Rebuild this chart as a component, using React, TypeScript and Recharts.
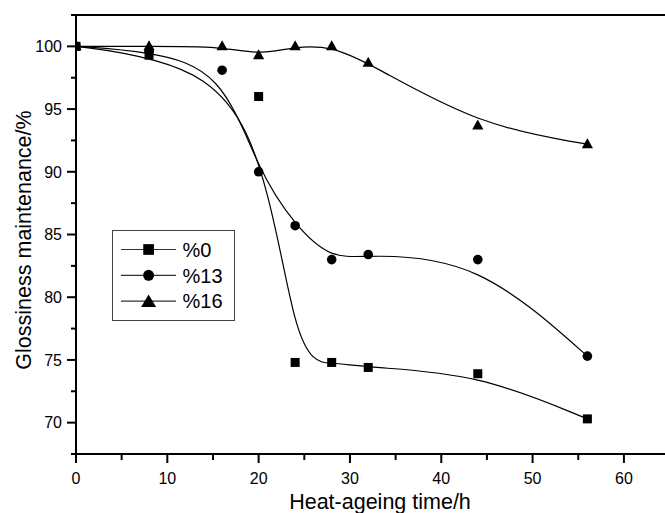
import React from "react";
import { LineChart, Line, XAxis, YAxis, ReferenceLine, Legend } from "recharts";

// heat-ageing time (h) and glossiness maintenance (%) per sample
const time0 = [0, 8, 20, 24, 28, 32, 44, 56];
const gloss0 = [100, 99.3, 96.0, 74.8, 74.8, 74.4, 73.9, 70.3];

const time13 = [0, 8, 16, 20, 24, 28, 32, 44, 56];
const gloss13 = [100, 99.6, 98.1, 90.0, 85.7, 83.0, 83.4, 83.0, 75.3];

const time16 = [0, 8, 16, 20, 24, 28, 32, 44, 56];
const gloss16 = [100, 100, 100, 99.3, 100, 100, 98.7, 93.7, 92.2];

const seriesNames = ["%0", "%13", "%16"];

const xTicks = [0, 5, 10, 15, 20, 25, 30, 35, 40, 45, 50, 55, 60];
const yTicks = [67.5, 70, 72.5, 75, 77.5, 80, 82.5, 85, 87.5, 90, 92.5, 95, 97.5, 100, 102.5];

const FONT = "'Liberation Sans', Arial, Helvetica, sans-serif";

const toPoints = (xs: number[], ys: number[]) => xs.map((x, i) => ({ x, y: ys[i] }));

type Shape = "square" | "circle" | "triangle";

function marker(shape: Shape, cx: number, cy: number, big: boolean, key?: React.Key) {
  if (shape === "square") {
    const s = big ? 10.7 : 9;
    return <rect key={key} x={cx - s / 2} y={cy - s / 2} width={s} height={s} fill="#000" />;
  }
  if (shape === "circle") {
    return <circle key={key} cx={cx} cy={cy} r={big ? 5.5 : 4.8} fill="#000" />;
  }
  const hw = big ? 7.5 : 5.6;
  const up = big ? 6.7 : 6;
  const dn = big ? 6 : 4;
  return (
    <polygon key={key}
      points={`${cx},${cy - up} ${cx - hw},${cy + dn} ${cx + hw},${cy + dn}`}
      fill="#000" />
  );
}

const dotFor = (shape: Shape) => (p: any) => {
  if (!isFinite(p.cx) || !isFinite(p.cy)) return <g key={p.index} />;
  return marker(shape, p.cx, p.cy, false, p.index);
};

function YTick(props: any) {
  const { x, y, payload } = props;
  const v = payload.value as number;
  const major = v % 5 === 0;
  return (
    <g>
      <line x1={x - (major ? 9 : 5)} x2={x} y1={y} y2={y} stroke="#000" strokeWidth={2} />
      {major && (
        <text x={x - 14} y={y} dy="0.36em" textAnchor="end" fontSize={16}
              fontFamily={FONT} fill="#000">{v}</text>
      )}
    </g>
  );
}

function XTick(props: any) {
  const { x, y, payload } = props;
  const v = payload.value as number;
  const major = v % 10 === 0;
  return (
    <g>
      <line x1={x} x2={x} y1={y} y2={y + (major ? 9 : 6)} stroke="#000" strokeWidth={2} />
      {major && (
        <text x={x} y={y + 29.5} textAnchor="middle" fontSize={16}
              fontFamily={FONT} fill="#000">{v}</text>
      )}
    </g>
  );
}

const shapes: Shape[] = ["square", "circle", "triangle"];

function LegendBox() {
  return (
    <svg width={124} height={92} style={{ display: "block" }}>
      <rect x={0.5} y={0.5} width={122} height={90} fill="#fff" stroke="#444" strokeWidth={1} />
      {seriesNames.map((name, i) => {
        const cy = 19.5 + i * 25.8;
        return (
          <g key={name}>
            <line x1={9} x2={64} y1={cy} y2={cy} stroke="#333" strokeWidth={1.2} />
            {marker(shapes[i], 36.6, cy, true)}
            <text x={70.5} y={cy} dy="0.36em" fontSize={20} fontFamily={FONT} fill="#000">{name}</text>
          </g>
        );
      })}
    </svg>
  );
}

export default function App() {
  return (
    <div style={{ position: "absolute", left: 0, top: 0, width: 665, height: 513, background: "#fff" }}>
      <LineChart width={665} height={513} margin={{ top: 15, right: 0, left: 0, bottom: 0 }}>
        <XAxis type="number" dataKey="x" domain={[0, 64.5]} ticks={xTicks} interval={0}
               allowDataOverflow height={59} tickSize={0} tickMargin={0} tickLine={false}
               axisLine={{ stroke: "#000", strokeWidth: 2 }} tick={<XTick />}
               label={{
                 content: () => (
                   <text x={380} y={509} textAnchor="middle" fontSize={21.5}
                         fontFamily={FONT} fill="#000">Heat-ageing time/h</text>
                 ),
               }} />
        <YAxis type="number" dataKey="y" domain={[67.5, 102.5]} ticks={yTicks} interval={0}
               allowDataOverflow width={76} tickSize={0} tickMargin={0} tickLine={false}
               axisLine={{ stroke: "#000", strokeWidth: 2 }} tick={<YTick />}
               label={{
                 content: () => (
                   <text x={31} y={240} transform="rotate(-90 31 240)" textAnchor="middle"
                         fontSize={21.5} fontFamily={FONT} fill="#000">Glossiness maintenance/%</text>
                 ),
               }} />
        <ReferenceLine y={102.5} stroke="#000" strokeWidth={2} ifOverflow="visible" />
        <Line data={toPoints(time0, gloss0)} dataKey="y" name={seriesNames[0]} type="basis"
              stroke="#000" strokeWidth={1.2} dot={dotFor("square")} activeDot={false}
              isAnimationActive={false} />
        <Line data={toPoints(time13, gloss13)} dataKey="y" name={seriesNames[1]} type="basis"
              stroke="#000" strokeWidth={1.2} dot={dotFor("circle")} activeDot={false}
              isAnimationActive={false} />
        <Line data={toPoints(time16, gloss16)} dataKey="y" name={seriesNames[2]} type="basis"
              stroke="#000" strokeWidth={1.2} dot={dotFor("triangle")} activeDot={false}
              isAnimationActive={false} />
        <Legend layout="vertical" align="center" verticalAlign="middle"
                content={() => <LegendBox />}
                wrapperStyle={{ position: "absolute", left: 112, top: 230, width: 124, height: 92 }} />
      </LineChart>
    </div>
  );
}
